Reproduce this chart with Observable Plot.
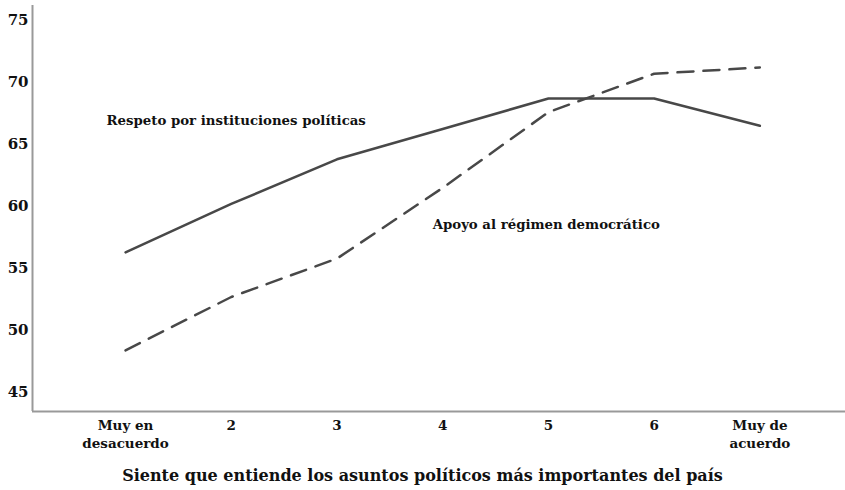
<!DOCTYPE html>
<html>
<head>
<meta charset="utf-8">
<script src="https://cdn.jsdelivr.net/npm/d3@7"></script>
<script src="https://cdn.jsdelivr.net/npm/@observablehq/plot@0.6"></script>
<style>
  body { margin: 0; background: #fff; font-family: "DejaVu Serif", serif; }
  #title { width: 845px; box-sizing: border-box; padding-top: 10px; text-align: center;
           font: bold 16px "DejaVu Serif", serif; line-height: 22px; color: #111; }
</style>
</head>
<body>
<div id="chart"></div>
<div id="title">Siente que entiende los asuntos políticos más importantes del país</div>
<script>
const categories = [1, 2, 3, 4, 5, 6, 7];
const tickLabels = ["Muy en\ndesacuerdo", "2", "3", "4", "5", "6", "Muy de\nacuerdo"];
const respeto = [56.3, 60.2, 63.8, 66.25, 68.7, 68.7, 66.5];
const apoyo = [48.4, 52.7, 55.8, 61.5, 67.6, 70.7, 71.2];
const yTicks = [45, 50, 55, 60, 65, 70, 75];
const seriesLabels = [
  {name: "Respeto por instituciones políticas", x: 0.82, y: 66.9},
  {name: "Apoyo al régimen democrático", x: 3.905, y: 58.5}
];

const xDomain = [0.12, 7.81];
const yDomain = [43.47, 76.2];

const rows = (vals, s) => categories.map((c, i) => ({x: c, y: vals[i], s}));
const dataR = rows(respeto, "Respeto");
const dataA = rows(apoyo, "Apoyo");

const chart = Plot.plot({
  width: 845,
  height: 455,
  marginLeft: 32,
  marginRight: 0,
  marginTop: 5,
  marginBottom: 44,
  style: {fontFamily: "DejaVu Serif", fontWeight: "bold", color: "#111", background: "#fff"},
  x: {domain: xDomain, label: null},
  y: {domain: yDomain, label: null},
  marks: [
    Plot.axisX({ticks: categories, tickFormat: (d) => tickLabels[categories.indexOf(d)], tickSize: 0, tickPadding: 6, fontSize: 13.5, lineHeight: 1.3, label: null}),
    Plot.axisY({ticks: yTicks, tickSize: 0, tickPadding: 4, fontSize: 15, label: null}),
    Plot.ruleX([xDomain[0]], {stroke: "#999", strokeWidth: 2}),
    Plot.ruleY([yDomain[0]], {stroke: "#999", strokeWidth: 2}),
    Plot.line(dataR, {x: "x", y: "y", stroke: "#484848", strokeWidth: 2.5}),
    Plot.line(dataA, {x: "x", y: "y", stroke: "#484848", strokeWidth: 2.5, strokeDasharray: "16,10"}),
    Plot.text(seriesLabels, {x: "x", y: "y", text: "name", textAnchor: "start", fontSize: 13.3, fill: "#111"})
  ]
});
document.getElementById("chart").appendChild(chart);
</script>
</body>
</html>
